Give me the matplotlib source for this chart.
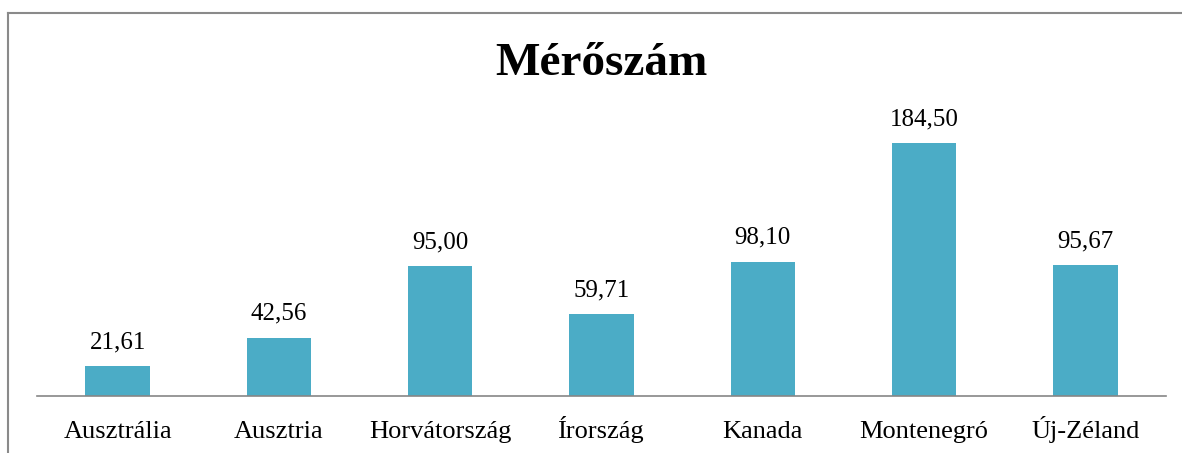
import matplotlib.pyplot as plt
from matplotlib.lines import Line2D

orszagok = ["Ausztrália", "Ausztria", "Horvátország", "Írország", "Kanada", "Montenegró", "Új-Zéland"]
ertekek = [21.61, 42.56, 95.00, 59.71, 98.10, 184.50, 95.67]

plt.rcParams['font.family'] = ['Liberation Serif', 'DejaVu Serif']

fig = plt.figure(figsize=(11.82, 4.53), dpi=100)
ax = fig.add_axes([0.0313, 0.1258, 0.9552, 0.6049])

x = range(len(orszagok))
bars = ax.bar(x, ertekek, width=0.4, color="#4BACC6")
for b, v in zip(bars, ertekek):
    ax.text(b.get_x() + b.get_width() / 2, v + 13, f"{v:.2f}".replace(".", ","),
            ha="center", va="baseline", fontsize=18)

ax.set_xlim(-0.5, len(orszagok) - 0.5)
ax.set_ylim(0, 200)
ax.set_yticks([])
ax.set_xticks([])
for i, nev in zip(x, orszagok):
    ax.text(i, -0.155, nev, ha="center", va="baseline", fontsize=19,
            transform=ax.get_xaxis_transform())
for s in ["top", "right", "left"]:
    ax.spines[s].set_visible(False)
ax.spines["bottom"].set_color("#868686")
ax.spines["bottom"].set_linewidth(1.2)

fig.text(0.509, 0.858, "Mérőszám", ha="center", va="center", fontsize=34, fontweight="bold")

# keret
fig.add_artist(Line2D([8 / 1182, 1], [1 - 13 / 453, 1 - 13 / 453], color="#8a8a8a", lw=1.5))
fig.add_artist(Line2D([8 / 1182, 8 / 1182], [0, 1 - 13 / 453], color="#8a8a8a", lw=1.5))

plt.savefig("out.png", dpi=100)
plt.close()
